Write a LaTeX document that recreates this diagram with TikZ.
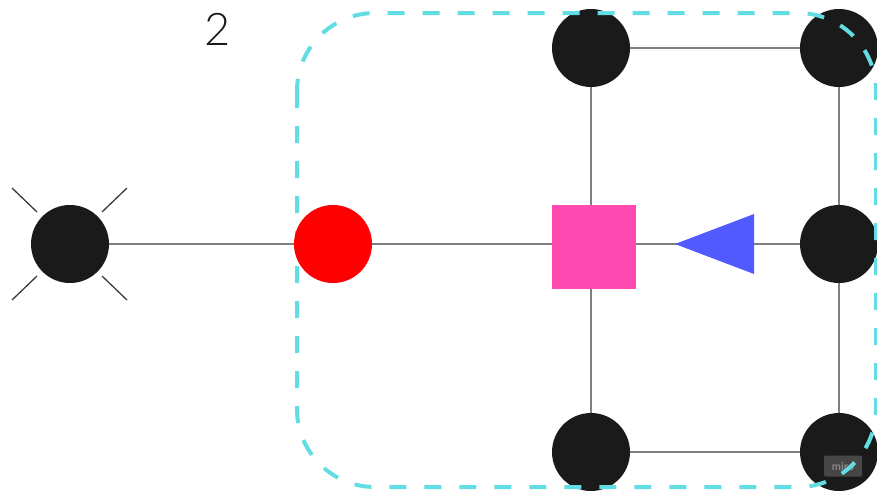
\documentclass[tikz,border=0pt]{standalone}
\usepackage{fontspec}
\setmainfont{Lato}
\newfontfamily\thinfont{Lato Light}
\usetikzlibrary{shapes.geometric}
\definecolor{nodeblack}{HTML}{1A1A1A}
\definecolor{edgegray}{HTML}{808080}
\definecolor{pinkfill}{HTML}{FF4AB2}
\definecolor{bluefill}{HTML}{505AFF}
\definecolor{cyanline}{HTML}{62DDE3}
\tikzset{
  blackdot/.style={circle,fill=nodeblack,minimum size=78pt,inner sep=0pt},
  reddot/.style={circle,fill=red,minimum size=78pt,inner sep=0pt},
  pinksquare/.style={rectangle,fill=pinkfill,minimum size=84pt,inner sep=0pt},
  edge/.style={draw=edgegray,line width=1.4pt},
  ray/.style={draw=nodeblack!85,line width=1.3pt},
  groupbox/.style={draw=cyanline,line width=4pt,dash pattern=on 17pt off 18pt,rounded corners=78pt},
  watermark/.style={fill=gray!70!black,fill opacity=0.7,text opacity=0.8,text=gray!80,rounded corners=1pt,font=\bfseries\fontsize{11}{11}\selectfont,inner sep=1pt,minimum width=38pt,minimum height=21pt},
}
\begin{document}
\begin{tikzpicture}[x=1pt,y=-1pt]
\useasboundingbox (0,0) rectangle (877,491);
% edges (behind nodes)
\coordinate (lc) at (70,244);
\coordinate (rc) at (333,244);
\coordinate (sq) at (591,244);
\coordinate (tm) at (591,48);
\coordinate (bm) at (591,452);
\coordinate (tr) at (839,48);
\coordinate (mr) at (839,244);
\coordinate (br) at (839,452);
\draw[edge] (lc) -- (rc);
\draw[edge] (rc) -- (sq);
\draw[edge] (sq) -- (mr);
\draw[edge] (tm) -- (sq);
\draw[edge] (sq) -- (bm);
\draw[edge] (tm) -- (tr);
\draw[edge] (tr) -- (mr);
\draw[edge] (mr) -- (br);
\draw[edge] (bm) -- (br);
% nodes
\node[blackdot] (left) at (lc) {};
\draw[ray] (12,188) -- (37,212);
\draw[ray] (102,212) -- (127,188);
\draw[ray] (12,300) -- (37,276);
\draw[ray] (102,276) -- (127,300);
\node[pinksquare] (square) at (594,247) {};
\fill[bluefill] (675,244) -- (754,214) -- (754,274) -- cycle;
\node[blackdot] (topmid) at (tm) {};
\node[blackdot] (botmid) at (bm) {};
\node[blackdot] (topright) at (tr) {};
\node[blackdot] (midright) at (mr) {};
\node[blackdot] (botright) at (br) {};
% watermark
\node[watermark] (wm) at (843,466) {miro};
% group box
\draw[groupbox] (297,13) rectangle (876,487);
\node[reddot] (red) at (rc) {};
% label
\node[font=\thinfont\fontsize{45}{45}\selectfont, text=nodeblack, inner sep=0pt] (label) at (218,29) {2};
\end{tikzpicture}
\end{document}
